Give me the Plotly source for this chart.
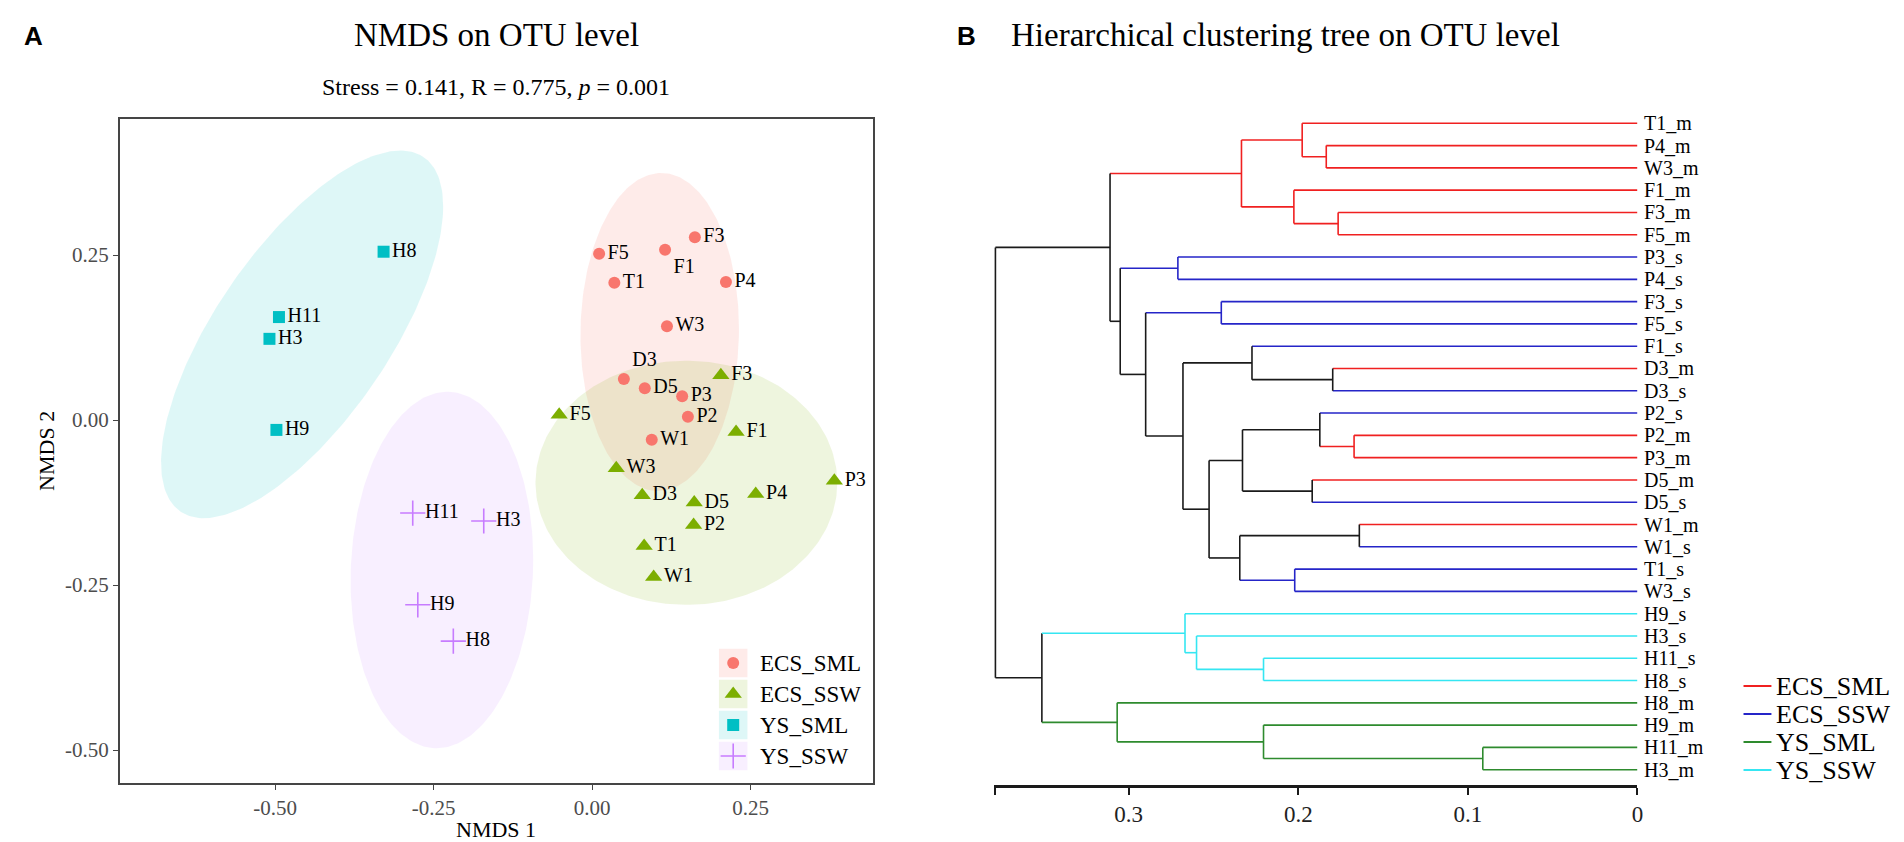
import numpy as np
import plotly.graph_objects as go

W, H = 1904, 842
SERIF = "Liberation Serif, Times New Roman, serif"
SANS = "Liberation Sans, Arial, sans-serif"

# ---------------- Panel A data (NMDS) ----------------
groups = ["ECS_SML", "ECS_SSW", "YS_SML", "YS_SSW"]

ecs_sml_labels = ["F3", "F5", "F1", "T1", "P4", "W3", "D3", "D5", "P3", "P2", "W1"]
ecs_sml_x = [0.162, 0.011, 0.115, 0.035, 0.211, 0.118, 0.050, 0.083, 0.142, 0.151, 0.094]
ecs_sml_y = [0.277, 0.252, 0.258, 0.208, 0.209, 0.142, 0.062, 0.048, 0.036, 0.005, -0.030]

ecs_ssw_labels = ["F5", "F3", "F1", "W3", "D3", "D5", "P4", "P3", "P2", "T1", "W1"]
ecs_ssw_x = [-0.052, 0.203, 0.227, 0.038, 0.079, 0.161, 0.258, 0.382, 0.160, 0.082, 0.097]
ecs_ssw_y = [0.008, 0.068, -0.018, -0.073, -0.114, -0.125, -0.112, -0.092, -0.159, -0.191, -0.238]

ys_sml_labels = ["H8", "H11", "H3", "H9"]
ys_sml_x = [-0.329, -0.494, -0.509, -0.498]
ys_sml_y = [0.255, 0.156, 0.123, -0.015]

ys_ssw_labels = ["H11", "H3", "H9", "H8"]
ys_ssw_x = [-0.283, -0.171, -0.275, -0.219]
ys_ssw_y = [-0.141, -0.153, -0.280, -0.335]

# confidence-ellipse half extents (x, y) and correlation
ell_ax = [0.125, 0.238, 0.2225, 0.144]
ell_ay = [0.241, 0.185, 0.2785, 0.270]
ell_rho = [0.02, 0.0, 0.696, 0.06]

x_ticks = [-0.50, -0.25, 0.00, 0.25]
x_tick_text = ["-0.50", "-0.25", "0.00", "0.25"]
y_ticks = [-0.50, -0.25, 0.00, 0.25]
y_tick_text = ["-0.50", "-0.25", "0.00", "0.25"]

# ---------------- Panel B data (dendrogram) ----------------
leaf_order = ["T1_m", "P4_m", "W3_m", "F1_m", "F3_m", "F5_m", "P3_s", "P4_s", "F3_s", "F5_s",
              "F1_s", "D3_m", "D3_s", "P2_s", "P2_m", "P3_m", "D5_m", "D5_s", "W1_m", "W1_s",
              "T1_s", "W3_s", "H9_s", "H3_s", "H11_s", "H8_s", "H8_m", "H9_m", "H11_m", "H3_m"]
merge_a = ["P4_m", "T1_m", "F3_m", "F1_m", "n2", "P3_s", "F3_s", "D3_m", "F1_s", "P2_m",
           "P2_s", "D5_m", "n11", "W1_m", "T1_s", "n14", "n13", "n9", "n7", "n6",
           "n5", "H11_s", "H3_s", "H9_s", "H11_m", "H9_m", "H8_m", "n24", "n21"]
merge_b = ["W3_m", "n1", "F5_m", "n3", "n4", "P4_s", "F5_s", "D3_s", "n8", "P3_m",
           "n10", "D5_s", "n12", "W1_s", "W3_s", "n15", "n16", "n17", "n18", "n19",
           "n20", "H8_s", "n22", "n23", "H3_m", "n25", "n26", "n27", "n28"]
merge_h = [0.1835, 0.1977, 0.1765, 0.2026, 0.2335, 0.2710, 0.2454, 0.1797, 0.2273, 0.1671,
           0.1873, 0.1918, 0.2329, 0.1640, 0.2021, 0.2345, 0.2526, 0.2680, 0.2900, 0.3050,
           0.3110, 0.2205, 0.2600, 0.2668, 0.0912, 0.2205, 0.3068, 0.3512, 0.3786]
dend_ticks = [0.3786, 0.3, 0.2, 0.1, 0.0]
dend_tick_text = ["", "0.3", "0.2", "0.1", "0"]

# ---------------- styles ----------------
pt_colors = ["#F8766D", "#7CAE00", "#00BFC4", "#C77CFF"]
fill_colors = ["rgba(248,118,109,0.15)", "rgba(124,174,0,0.13)",
               "rgba(0,191,196,0.13)", "rgba(199,124,255,0.12)"]
symbols = ["circle", "triangle-up", "square", "cross-thin"]
sizes = [12, 15, 12, 18]
dend_colors = {"ECS_SML": "#F02020", "ECS_SSW": "#2525C8", "YS_SML": "#2E8B2E", "YS_SSW": "#35E6F2"}

group_labels = [ecs_sml_labels, ecs_ssw_labels, ys_sml_labels, ys_ssw_labels]
group_x = [ecs_sml_x, ecs_ssw_x, ys_sml_x, ys_ssw_x]
group_y = [ecs_sml_y, ecs_ssw_y, ys_sml_y, ys_ssw_y]
label_pos_special = {(0, "F1"): "bottom right", (0, "D3"): "top right"}

fig = go.Figure()

# ellipses
t = np.linspace(0, 2 * np.pi, 240)
for gi in range(4):
    cx, cy = float(np.mean(group_x[gi])), float(np.mean(group_y[gi]))
    r = ell_rho[gi]
    ex = cx + ell_ax[gi] * np.cos(t)
    ey = cy + ell_ay[gi] * (r * np.cos(t) + np.sqrt(1 - r * r) * np.sin(t))
    fig.add_trace(go.Scatter(x=ex, y=ey, mode="lines", fill="toself", fillcolor=fill_colors[gi],
                             line=dict(width=0), hoverinfo="skip", showlegend=False,
                             xaxis="x", yaxis="y"))

# points + labels
for gi in range(4):
    pos = [label_pos_special.get((gi, lab), "middle right") for lab in group_labels[gi]]
    mk = dict(symbol=symbols[gi], size=sizes[gi], color=pt_colors[gi])
    if symbols[gi] == "cross-thin":
        mk["line"] = dict(width=1.6, color=pt_colors[gi])
    else:
        mk["line"] = dict(width=0)
    fig.add_trace(go.Scatter(x=group_x[gi], y=group_y[gi], mode="markers+text",
                             text=group_labels[gi], textposition=pos,
                             textfont=dict(family=SERIF, size=20, color="black"),
                             marker=mk, cliponaxis=False, showlegend=False,
                             name=groups[gi], xaxis="x", yaxis="y"))

# panel A legend (manual, inside plot)
for gi in range(4):
    fig.add_shape(type="rect", xref="x3", yref="y3", x0=0, x1=1, y0=gi - 0.46, y1=gi + 0.46,
                  fillcolor=fill_colors[gi], line=dict(width=0), layer="below")
for gi in range(4):
    mk = dict(symbol=symbols[gi], size=sizes[gi], color=pt_colors[gi])
    mk["line"] = dict(width=1.6 if symbols[gi] == "cross-thin" else 0, color=pt_colors[gi])
    fig.add_trace(go.Scatter(x=[0.5], y=[gi], mode="markers", marker=mk, showlegend=False,
                             hoverinfo="skip", xaxis="x3", yaxis="y3"))
    fig.add_annotation(xref="paper", yref="y3", x=752 / W, y=gi, text=groups[gi],
                       showarrow=False, xanchor="left", yanchor="middle",
                       font=dict(family=SERIF, size=23, color="black"))

# ---------------- dendrogram geometry ----------------
def leaf_group(name):
    sea = "YS" if name.startswith("H") else "ECS"
    layer = "SML" if name.endswith("_m") else "SSW"
    return f"{sea}_{layer}"

ypos = {n: float(i) for i, n in enumerate(leaf_order)}
hgt = {n: 0.0 for n in leaf_order}
grp = {n: leaf_group(n) for n in leaf_order}
segs = {}

def add_seg(color, xs, ys):
    segs.setdefault(color, ([], []))
    segs[color][0].extend(xs + [None])
    segs[color][1].extend(ys + [None])

for k, (a, b, h) in enumerate(zip(merge_a, merge_b, merge_h)):
    name = f"n{k + 1}"
    ypos[name] = (ypos[a] + ypos[b]) / 2
    hgt[name] = h
    grp[name] = grp[a] if grp[a] == grp[b] else None
    for c in (a, b):
        col = dend_colors[grp[c]] if grp[c] else "#1A1A1A"
        add_seg(col, [hgt[c], h], [ypos[c], ypos[c]])
    vcol = dend_colors[grp[name]] if grp[name] else "#1A1A1A"
    add_seg(vcol, [h, h], [ypos[a], ypos[b]])

for col, (xs, ys) in segs.items():
    fig.add_trace(go.Scatter(x=xs, y=ys, mode="lines", line=dict(color=col, width=1.6),
                             hoverinfo="skip", showlegend=False, xaxis="x2", yaxis="y2"))

for n in leaf_order:
    fig.add_annotation(xref="x2", yref="y2", x=0, y=ypos[n], text=n, showarrow=False,
                       xanchor="left", yanchor="middle", xshift=5,
                       font=dict(family=SERIF, size=20, color="black"))

# right legend
leg_y = [678, 706, 734, 762]
for gi, g in enumerate(groups):
    yy = 1 - leg_y[gi] / H
    fig.add_shape(type="line", xref="paper", yref="paper", x0=1741 / W, x1=1769 / W, y0=yy, y1=yy,
                  line=dict(color=dend_colors[g], width=2))
    fig.add_annotation(xref="paper", yref="paper", x=1772 / W, y=yy, text=g, showarrow=False,
                       xanchor="left", yanchor="middle",
                       font=dict(family=SERIF, size=26, color="black"))

# titles and labels
fig.add_annotation(xref="paper", yref="paper", x=14 / W, y=1 - 28 / H, text="<b>A</b>",
                   showarrow=False, xanchor="left", yanchor="middle",
                   font=dict(family=SANS, size=26, color="black"))
fig.add_annotation(xref="paper", yref="paper", x=950 / W, y=1 - 28 / H, text="<b>B</b>",
                   showarrow=False, xanchor="left", yanchor="middle",
                   font=dict(family=SANS, size=26, color="black"))
fig.add_annotation(xref="paper", yref="paper", x=490 / W, y=1 - 27 / H, text="NMDS on OTU level",
                   showarrow=False, xanchor="center", yanchor="middle",
                   font=dict(family=SERIF, size=33, color="black"))
fig.add_annotation(xref="paper", yref="paper", x=490 / W, y=1 - 79 / H,
                   text="Stress = 0.141, R = 0.775, <i>p</i> = 0.001",
                   showarrow=False, xanchor="center", yanchor="middle",
                   font=dict(family=SERIF, size=24, color="black"))
fig.add_annotation(xref="paper", yref="paper", x=1282 / W, y=1 - 27 / H,
                   text="Hierarchical clustering tree on OTU level",
                   showarrow=False, xanchor="center", yanchor="middle",
                   font=dict(family=SERIF, size=33, color="black"))
fig.add_annotation(xref="paper", yref="paper", x=490 / W, y=1 - 821 / H, text="NMDS 1",
                   showarrow=False, xanchor="center", yanchor="middle",
                   font=dict(family=SERIF, size=22, color="black"))
fig.add_annotation(xref="paper", yref="paper", x=38 / W, y=1 - 443 / H, text="NMDS 2",
                   showarrow=False, xanchor="center", yanchor="middle", textangle=-90,
                   font=dict(family=SERIF, size=22, color="black"))

frame = "#454545"
fig.update_layout(
    width=W, height=H, margin=dict(l=0, r=0, t=0, b=0),
    paper_bgcolor="white", plot_bgcolor="white", showlegend=False,
    xaxis=dict(domain=[112 / W, 868 / W], range=[-0.7453, 0.4434], showgrid=False, zeroline=False,
               showline=True, mirror=True, linecolor=frame, linewidth=1.5,
               ticks="outside", ticklen=5, tickwidth=1.3, tickcolor=frame,
               tickvals=x_ticks, ticktext=x_tick_text,
               tickfont=dict(family=SERIF, size=21, color="#4D4D4D"), anchor="y"),
    yaxis=dict(domain=[1 - 775 / H, 1 - 111 / H], range=[-0.5500, 0.4561], showgrid=False,
               zeroline=False, showline=True, mirror=True, linecolor=frame, linewidth=1.5,
               ticks="outside", ticklen=5, tickwidth=1.3, tickcolor=frame,
               tickvals=y_ticks, ticktext=y_tick_text,
               tickfont=dict(family=SERIF, size=21, color="#4D4D4D"), anchor="x"),
    xaxis2=dict(domain=[989 / W, 1634.6 / W], range=[0.3795, 0], showgrid=False, zeroline=False,
                showline=True, linecolor="#1A1A1A", linewidth=2.5,
                ticks="outside", ticklen=7, tickwidth=2, tickcolor="#1A1A1A",
                tickvals=dend_ticks, ticktext=dend_tick_text,
                tickfont=dict(family=SERIF, size=23, color="#222222"), anchor="y2"),
    yaxis2=dict(domain=[1 - 777 / H, 1 - 104 / H], range=[29.686, -0.507], visible=False,
                anchor="x2"),
    xaxis3=dict(domain=[713 / W, 742 / W], range=[0, 1], visible=False, anchor="y3"),
    yaxis3=dict(domain=[1 - 763.5 / H, 1 - 639.5 / H], range=[3.5, -0.5], visible=False,
                anchor="x3"),
)

fig.write_html("out.html")
